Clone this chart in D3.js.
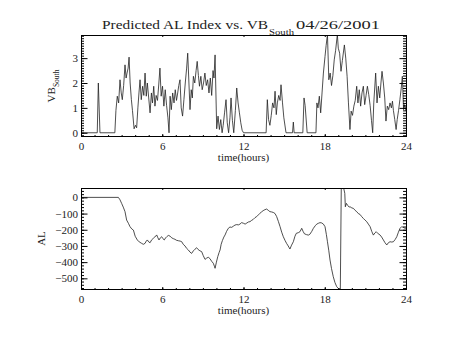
<!DOCTYPE html>
<html><head><meta charset="utf-8">
<script src="https://cdn.jsdelivr.net/npm/d3@7"></script>
<style>html,body{margin:0;padding:0;background:#fff}</style>
</head><body><svg id="c" width="454" height="341"></svg>
<script>
// ---- data (hours, value) ----
const vbSouth = [
[0,0],[1.2,0],[1.28,2.0],[1.4,0],[2.5,0],[2.58,0.9],[2.68,1.47],[2.78,1.2],[2.88,2.13],[2.97,1.6],
[3.05,1.33],[3.15,1.9],[3.25,2.73],[3.33,2.2],[3.4,2.4],[3.48,2.6],[3.55,3.04],[3.63,2.0],[3.72,1.33],[3.8,0.9],
[3.92,0.16],[4.02,0.3],[4.11,0.2],[4.2,1.0],[4.28,1.6],[4.36,2.13],[4.45,1.33],[4.55,1.87],[4.64,1.5],[4.73,2.4],
[4.82,1.47],[4.9,2.0],[5.0,1.4],[5.1,0.8],[5.2,1.6],[5.28,1.2],[5.37,1.87],[5.46,1.07],[5.55,1.5],[5.65,1.3],
[5.75,2.0],[5.83,2.6],[5.92,1.47],[6.02,1.87],[6.12,1.07],[6.22,1.73],[6.32,1.1],[6.42,0.6],[6.5,0],[6.58,1.47],
[6.67,0.93],[6.77,1.6],[6.87,1.2],[6.96,1.73],[7.05,1.3],[7.14,1.6],[7.22,1.9],[7.31,2.13],[7.4,1.0],[7.5,0.67],
[7.6,1.33],[7.7,2.0],[7.8,2.6],[7.88,3.2],[7.97,2.0],[8.05,0.93],[8.14,1.73],[8.22,1.4],[8.3,2.27],[8.4,2.0],
[8.5,2.5],[8.58,2.87],[8.67,2.3],[8.75,1.87],[8.85,2.27],[8.95,1.73],[9.05,2.0],[9.15,2.4],[9.25,1.9],[9.35,2.13],
[9.45,1.6],[9.55,2.2],[9.65,1.5],[9.75,2.5],[9.82,2.2],[9.9,3.13],[10.02,0.16],[10.12,0.67],[10.22,0.13],[10.32,0.53],
[10.42,0],[10.5,0.3],[10.6,0.8],[10.71,1.33],[10.8,0.4],[10.9,0],[11.0,0.6],[11.08,1.4],[11.18,0.5],[11.28,0],
[11.4,0.9],[11.5,1.8],[11.6,1.2],[11.7,0.8],[11.8,0.4],[11.9,0.1],[12.0,0],[13.67,0],[13.76,1.33],[13.85,0.53],
[13.95,0.3],[14.05,0.7],[14.15,1.2],[14.25,1.0],[14.33,1.67],[14.42,0.73],[14.5,1.2],[14.6,1.5],[14.7,1.3],[14.77,1.93],
[14.88,1.2],[14.98,0.6],[15.14,0],[15.62,0],[15.68,0.43],[15.74,0],[16.38,0],[16.47,1.4],[16.55,1.1],[16.7,0],
[17.35,0],[17.42,1.2],[17.5,1.0],[17.6,1.47],[17.7,0.8],[17.8,1.6],[17.9,2.4],[18.02,3.07],[18.1,3.5],[18.2,3.95],
[18.3,2.13],[18.4,2.4],[18.5,1.9],[18.6,2.3],[18.7,2.93],[18.8,3.3],[18.93,3.95],[19.0,3.4],[19.1,3.2],[19.2,2.47],
[19.3,2.9],[19.45,3.53],[19.55,3.0],[19.65,2.27],[19.75,1.2],[19.86,0.13],[19.95,0.87],[20.05,0.7],[20.15,1.07],[20.25,1.3],
[20.36,1.87],[20.45,1.2],[20.55,1.73],[20.65,1.07],[20.75,1.6],[20.85,1.87],[20.95,1.13],[21.05,1.5],[21.15,1.87],[21.25,1.53],
[21.35,1.1],[21.45,0.5],[21.54,0],[21.62,1.2],[21.76,2.4],[21.86,1.2],[21.96,1.87],[22.06,1.4],[22.15,2.0],[22.23,2.47],
[22.33,2.0],[22.43,1.4],[22.52,0.47],[22.62,1.07],[22.72,0.93],[22.82,1.2],[22.92,1.0],[23.0,1.27],[23.07,0.9],[23.17,0.53],
[23.27,0.13],[23.35,0.53],[23.45,0.9],[23.55,1.33],[23.65,1.8],[23.73,2.27],[23.82,0.93],[23.9,1.13],[24.0,0.87]
];
const alIndex = [
[0,0],[2.76,0],[2.88,-15],[3.0,-37],[3.12,-60],[3.25,-88],[3.37,-140],[3.5,-160],[3.62,-181],[3.75,-195],
[3.87,-202],[4.0,-240],[4.16,-263],[4.3,-275],[4.48,-284],[4.6,-290],[4.73,-284],[4.82,-270],[4.9,-263],[5.0,-275],
[5.1,-280],[5.22,-262],[5.34,-253],[5.45,-245],[5.59,-232],[5.68,-250],[5.76,-263],[5.86,-250],[5.96,-243],[6.05,-255],
[6.15,-263],[6.25,-250],[6.33,-243],[6.45,-235],[6.57,-239],[6.7,-250],[6.82,-255],[6.94,-259],[7.05,-265],[7.2,-268],
[7.32,-270],[7.44,-274],[7.55,-290],[7.68,-300],[7.8,-315],[7.93,-325],[8.05,-338],[8.17,-346],[8.3,-330],[8.42,-320],
[8.54,-311],[8.65,-322],[8.78,-330],[8.91,-335],[9.03,-360],[9.16,-383],[9.28,-375],[9.4,-370],[9.52,-378],[9.65,-395],
[9.77,-407],[9.85,-425],[9.9,-438],[10.0,-400],[10.1,-366],[10.2,-340],[10.27,-325],[10.35,-290],[10.44,-267],[10.55,-245],
[10.64,-232],[10.75,-210],[10.88,-191],[11.0,-183],[11.13,-185],[11.25,-178],[11.37,-171],[11.5,-168],[11.62,-170],[11.74,-165],
[11.86,-156],[12.0,-160],[12.12,-165],[12.25,-158],[12.36,-152],[12.48,-150],[12.6,-142],[12.72,-136],[12.85,-125],[12.97,-119],
[13.1,-108],[13.2,-99],[13.33,-90],[13.45,-82],[13.58,-76],[13.71,-72],[13.83,-80],[13.95,-88],[14.08,-90],[14.2,-93],
[14.33,-100],[14.45,-119],[14.58,-150],[14.7,-181],[14.82,-215],[14.94,-243],[15.06,-265],[15.18,-284],[15.3,-300],[15.43,-319],
[15.55,-295],[15.68,-274],[15.8,-240],[15.9,-222],[16.05,-218],[16.17,-212],[16.3,-191],[16.4,-210],[16.5,-225],[16.65,-230],
[16.79,-233],[16.9,-228],[17.04,-210],[17.16,-191],[17.3,-175],[17.41,-165],[17.53,-160],[17.65,-156],[17.78,-158],[17.9,-165],
[18.02,-181],[18.12,-230],[18.2,-274],[18.3,-330],[18.39,-387],[18.5,-440],[18.63,-490],[18.75,-525],[18.88,-551],[19.0,-563],
[19.15,-566],[19.22,58],[19.3,58],[19.4,56],[19.48,25],[19.52,-58],[19.6,-37],[19.7,-50],[19.8,-60],[19.87,-58],
[20.0,-65],[20.12,-68],[20.24,-80],[20.36,-88],[20.48,-100],[20.6,-105],[20.72,-118],[20.85,-130],[20.97,-140],[21.1,-150],
[21.22,-165],[21.35,-181],[21.47,-210],[21.59,-233],[21.7,-220],[21.8,-212],[21.95,-225],[22.08,-232],[22.2,-245],[22.33,-263],
[22.45,-280],[22.58,-294],[22.7,-280],[22.82,-274],[22.95,-276],[23.07,-274],[23.2,-260],[23.32,-243],[23.44,-215],[23.56,-191],
[23.68,-181],[23.8,-185],[23.9,-190],[24.0,-191]
];
const hourTicks = [0, 6, 12, 18, 24];
const hourMinor = d3.range(0, 25, 1);
const vbTicks = [0, 1, 2, 3];
const vbMinor = d3.range(-1, 40, 1).map(d => d / 10);
const alTicks = [0, -100, -200, -300, -400, -500];
const alMinor = d3.range(-560, 60, 20);
const vbDomain = [-0.13, 3.93];
const alDomain = [-566, 58];
const titleMain = "Predicted AL Index vs. VB", titleSub = "South", titleDate = "04/26/2001";
const xTitle = "time(hours)";

// ---- drawing ----
const svg = d3.select("#c");
svg.append("rect").attr("width", 454).attr("height", 341).attr("fill", "#fff");
const FONT = "Liberation Serif";
const TXT = "#222";
const L = 81, R = 406;
const x = d3.scaleLinear().domain([0, 24]).range([L, R]);

function panel(top, bot, domain, major, minor, data, id) {
  const y = d3.scaleLinear().domain(domain).range([bot, top]);
  const g = svg.append("g");
  g.append("clipPath").attr("id", id).append("rect")
    .attr("x", L).attr("y", top).attr("width", R - L).attr("height", bot - top);
  g.append("path").datum(data)
    .attr("clip-path", `url(#${id})`)
    .attr("fill", "none").attr("stroke", "#222").attr("stroke-width", 0.8)
    .attr("d", d3.line().x(d => x(d[0])).y(d => y(d[1])));
  const style = s => s.attr("font-family", FONT).attr("font-size", 11)
      .call(a => a.selectAll("line,path").attr("stroke", "#000"))
      .call(a => a.selectAll("text").attr("fill", TXT));
  // bottom
  g.append("g").attr("transform", `translate(0,${bot})`)
    .call(d3.axisBottom(x).tickValues(hourMinor).tickSize(-1).tickFormat(""))
    .call(style);
  g.append("g").attr("transform", `translate(0,${bot})`)
    .call(d3.axisBottom(x).tickValues(hourTicks).tickSizeInner(-2).tickSizeOuter(0).tickPadding(6).tickFormat(d3.format("d")))
    .call(style);
  // top
  g.append("g").attr("transform", `translate(0,${top})`)
    .call(d3.axisTop(x).tickValues(hourMinor).tickSize(-1).tickFormat(""))
    .call(style);
  g.append("g").attr("transform", `translate(0,${top})`)
    .call(d3.axisTop(x).tickValues(hourTicks).tickSize(-2).tickFormat(""))
    .call(style);
  // left
  g.append("g").attr("transform", `translate(${L},0)`)
    .call(d3.axisLeft(y).tickValues(minor).tickSize(-3).tickFormat(""))
    .call(style);
  g.append("g").attr("transform", `translate(${L},0)`)
    .call(d3.axisLeft(y).tickValues(major).tickSizeInner(-6.5).tickSizeOuter(0).tickPadding(3).tickFormat(d3.format("d")))
    .call(style);
  // right
  g.append("g").attr("transform", `translate(${R},0)`)
    .call(d3.axisRight(y).tickValues(minor).tickSize(-3).tickFormat(""))
    .call(style);
  g.append("g").attr("transform", `translate(${R},0)`)
    .call(d3.axisRight(y).tickValues(major).tickSize(-6.5).tickFormat(""))
    .call(style);
  // x title
  g.append("text").attr("x", (L + R) / 2).attr("y", bot + 25)
    .attr("text-anchor", "middle").attr("font-family", FONT).attr("font-size", 11).attr("fill", TXT)
    .text(xTitle);
  return g;
}

panel(35, 136, vbDomain, vbTicks, vbMinor, vbSouth, "clipA");
panel(188, 289, alDomain, alTicks, alMinor, alIndex, "clipB");

// y titles
const vbT = svg.append("text").attr("transform", "translate(55,86) rotate(-90)")
  .attr("text-anchor", "middle").attr("font-family", FONT).attr("font-size", 11).attr("fill", TXT);
vbT.append("tspan").text("VB");
vbT.append("tspan").attr("dy", 4).attr("font-size", 7.5).text("South");
svg.append("text").attr("transform", "translate(45,238.5) rotate(-90)")
  .attr("text-anchor", "middle").attr("font-family", FONT).attr("font-size", 11).attr("fill", TXT)
  .text("AL");

// main title
svg.append("text").attr("x", 102).attr("y", 28.5).attr("font-family", FONT).attr("font-size", 12.5).attr("fill", TXT)
  .attr("textLength", 166).attr("lengthAdjust", "spacingAndGlyphs").text(titleMain);
svg.append("text").attr("x", 269).attr("y", 34.5).attr("font-family", FONT).attr("font-size", 8).attr("fill", TXT)
  .attr("textLength", 25).attr("lengthAdjust", "spacingAndGlyphs").text(titleSub);
svg.append("text").attr("x", 296).attr("y", 28.5).attr("font-family", FONT).attr("font-size", 12.5).attr("fill", TXT)
  .attr("textLength", 84).attr("lengthAdjust", "spacingAndGlyphs").text(titleDate);
</script></body></html>
